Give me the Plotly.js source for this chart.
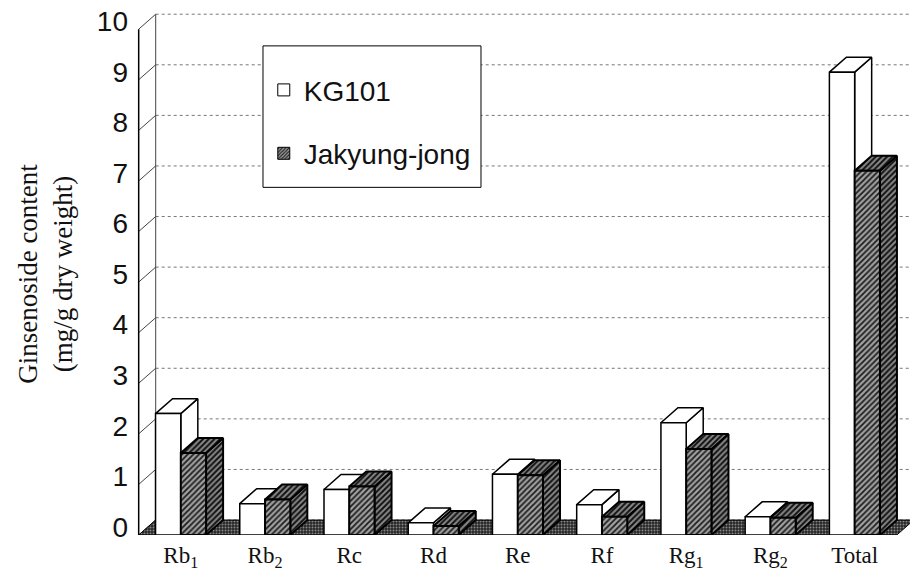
<!DOCTYPE html>
<html>
<head>
<meta charset="utf-8">
<script src="https://cdn.plot.ly/plotly-3.0.1.min.js"></script>
<style>html,body{margin:0;padding:0;background:#fff;}#chart{width:910px;height:578px;}</style>
</head>
<body>
<div id="chart"></div>
<script>
// ---- data ----
const categories = ['Rb<sub>1</sub>','Rb<sub>2</sub>','Rc','Rd','Re','Rf','Rg<sub>1</sub>','Rg<sub>2</sub>','Total'];
const kg101 = [2.4, 0.62, 0.9, 0.24, 1.2, 0.6, 2.22, 0.36, 9.15];
const jakyung = [1.62, 0.7, 0.96, 0.18, 1.18, 0.36, 1.7, 0.34, 7.2];
const seriesNames = ['KG101', 'Jakyung-jong'];
const yTicks = [0,1,2,3,4,5,6,7,8,9,10];

// ---- pseudo-3D geometry (axis units) ----
const BAR_W = 0.3, DX = 0.202, DY = 0.296;
const X_MIN = -0.52, X_MAX = 8.657, Y_MAX = 10.32;

function faces(vals, off) {
  const f = {front:{x:[],y:[]}, top:{x:[],y:[]}, side:{x:[],y:[]}};
  vals.forEach((v, i) => {
    const x0 = i + off, x1 = x0 + BAR_W;
    f.front.x.push(x0, x1, x1, x0, x0, null); f.front.y.push(0, 0, v, v, 0, null);
    f.top.x.push(x0, x1, x1+DX, x0+DX, x0, null); f.top.y.push(v, v, v+DY, v+DY, v, null);
    f.side.x.push(x1, x1+DX, x1+DX, x1, x1, null); f.side.y.push(0, DY, v+DY, v, 0, null);
  });
  return f;
}
function poly(p, fill, pattern, lw) {
  const t = {type:'scatter', mode:'lines', x:p.x, y:p.y, fill:'toself', fillcolor:fill,
    line:{color:'#000', width:lw}, hoverinfo:'skip', showlegend:false};
  if (pattern) t.fillpattern = pattern;
  return t;
}
const hatch = {shape:'/', size:4, solidity:0.45, fgcolor:'#1e1e1e', bgcolor:'#a0a0a0', fillmode:'replace'};
const hatchDark = {shape:'/', size:4, solidity:0.5, fgcolor:'#111', bgcolor:'#888', fillmode:'replace'};
const speckle = {shape:'.', size:3, solidity:0.35, fgcolor:'#888', bgcolor:'#262626', fillmode:'replace'};

const nCat = categories.length;
const traces = [];

// back-wall gridlines
const gx = [], gy = [];
yTicks.forEach(v => { gx.push(-0.5+DX, X_MAX, null); gy.push(v+DY, v+DY, null); });
traces.push({type:'scatter', mode:'lines', x:gx, y:gy, line:{color:'#777', width:1, dash:'dot'}, hoverinfo:'skip', showlegend:false});
// left wall connectors and back-left edge
const lx = [], ly = [];
yTicks.forEach(v => { lx.push(-0.5, -0.5+DX, null); ly.push(v, v+DY, null); });
lx.push(-0.5+DX, -0.5+DX, null); ly.push(DY, yTicks[yTicks.length-1]+DY, null);
traces.push({type:'scatter', mode:'lines', x:lx, y:ly, line:{color:'#444', width:1}, hoverinfo:'skip', showlegend:false});
// floor
traces.push(poly({x:[-0.5, nCat-0.5, nCat-0.5+DX, -0.5+DX, -0.5], y:[0,0,DY,DY,0]}, '#262626', speckle, 1));

// bars
const fk = faces(kg101, -BAR_W);
const fj = faces(jakyung, 0);
traces.push(poly(fk.side, '#fff', null, 1.5));
traces.push(poly(fk.top, '#fff', null, 1.5));
traces.push(poly(fk.front, '#fff', null, 1.5));
traces.push(poly(fj.side, '#888', hatchDark, 2));
traces.push(poly(fj.top, '#888', hatchDark, 2));
traces.push(poly(fj.front, '#a0a0a0', hatch, 2));

// front value axis line
traces.push({type:'scatter', mode:'lines', x:[-0.5,-0.5], y:[0, yTicks[yTicks.length-1]], line:{color:'#000', width:1.5}, hoverinfo:'skip', showlegend:false});

// legend entries
traces.push({type:'bar', x:[null], y:[null], name:seriesNames[0], legendgroup:'a',
  marker:{color:'#fff', line:{color:'#000', width:1}}, hoverinfo:'skip'});
traces.push({type:'bar', x:[null], y:[null], name:seriesNames[1], legendgroup:'b',
  marker:{color:'#a0a0a0', line:{color:'#000', width:1}, pattern:{shape:'/', size:3, solidity:0.45, fgcolor:'#1e1e1e', bgcolor:'#a0a0a0', fillmode:'replace'}}, hoverinfo:'skip'});

const layout = {
  width:910, height:578,
  margin:{l:137, r:0, t:13, b:43},
  paper_bgcolor:'#fff', plot_bgcolor:'#fff',
  showlegend:true,
  shapes:[{type:'rect', xref:'paper', yref:'paper', x0:0.163, x1:0.445, y0:0.666, y1:0.937,
    fillcolor:'#fff', line:{color:'#000', width:1}, layer:'above'}],
  legend:{x:0.164, y:0.90, xanchor:'left', yanchor:'top', bgcolor:'rgba(0,0,0,0)', borderwidth:0,
    font:{family:'Liberation Sans, Arial, sans-serif', size:28, color:'#111'},
    tracegroupgap:24, traceorder:'grouped', itemwidth:30},
  xaxis:{range:[X_MIN, X_MAX], tickvals:categories.map((c,i)=>i), ticktext:categories,
    showgrid:false, zeroline:false, showline:false, ticks:'', fixedrange:true, ticklabelstandoff:4,
    tickfont:{family:'Liberation Serif, Times New Roman, serif', size:23, color:'#111'}},
  yaxis:{range:[0, Y_MAX], tickvals:yTicks, showgrid:false, zeroline:false, showline:false, ticks:'',
    ticklabelstandoff:8, ticklabelshift:-8, fixedrange:true,
    tickfont:{family:'Liberation Sans, Arial, sans-serif', size:28, color:'#111'},
    title:{text:'Ginsenoside content<br>(mg/g dry weight)', standoff:16,
      font:{family:'Liberation Serif, Times New Roman, serif', size:27, color:'#111'}}},
};
Plotly.newPlot('chart', traces, layout, {displayModeBar:false, staticPlot:true});
</script>
</body>
</html>
